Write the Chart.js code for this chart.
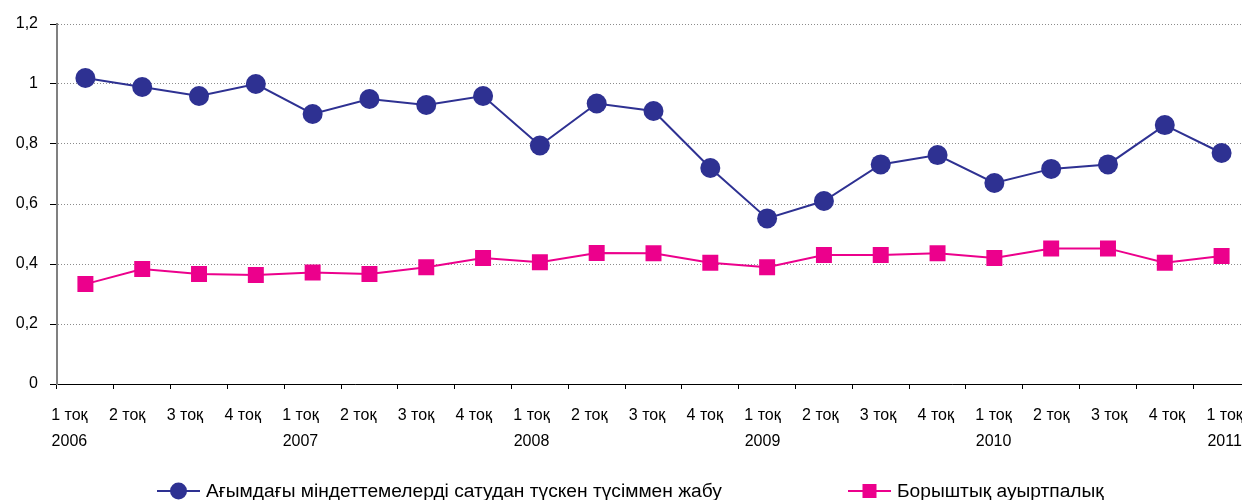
<!DOCTYPE html>
<html>
<head>
<meta charset="utf-8">
<script src="https://cdn.jsdelivr.net/npm/chart.js@4.4.1/dist/chart.umd.min.js"></script>
<style>
  html, body { margin: 0; padding: 0; background: #fff; overflow: hidden; }
  #wrap { width: 1262px; height: 500px; position: relative; }
</style>
</head>
<body>
<div id="wrap"><canvas id="c" width="1262" height="500"></canvas></div>
<script>
// ---- data ----
const quarters = ['1 тоқ','2 тоқ','3 тоқ','4 тоқ','1 тоқ','2 тоқ','3 тоқ','4 тоқ','1 тоқ','2 тоқ','3 тоқ','4 тоқ','1 тоқ','2 тоқ','3 тоқ','4 тоқ','1 тоқ','2 тоқ','3 тоқ','4 тоқ','1 тоқ'];
const years    = ['2006','','','','2007','','','','2008','','','','2009','','','','2010','','','','2011'];
const seriesNames = ['Ағымдағы міндеттемелерді сатудан түскен түсіммен жабу', 'Борыштық ауыртпалық'];
const coverage = [1.02, 0.99, 0.96, 1.00, 0.90, 0.95, 0.93, 0.96, 0.795, 0.935, 0.91, 0.72, 0.552, 0.61, 0.732, 0.763, 0.67, 0.717, 0.732, 0.863, 0.77];
const debtLoad = [0.333, 0.383, 0.367, 0.363, 0.372, 0.367, 0.389, 0.42, 0.406, 0.437, 0.436, 0.404, 0.389, 0.43, 0.43, 0.436, 0.42, 0.452, 0.452, 0.404, 0.427];
const yTicks = [0, 0.2, 0.4, 0.6, 0.8, 1, 1.2];

const labels = quarters.map((q, i) => [q, years[i]]);
const FONT = '"Liberation Sans", Arial, Helvetica, sans-serif';
const BLUE = '#2E3192';
const PINK = '#EC008C';

// shifts category labels progressively (label spacing in the original is slightly wider than point spacing)
const labelDriftPlugin = {
  id: 'labelDrift',
  beforeDraw(chart, args, opts) {
    const s = chart.scales.x;
    const items = s.getLabelItems();
    if (items && !items._drifted) {
      items.forEach((it, i) => { it.options.translation[0] += opts.start + i * opts.step; });
      items._drifted = true;
    }
  }
};

const legendPlugin = {
  id: 'customLegend',
  afterDraw(chart, args, opts) {
    const ctx = chart.ctx;
    const y = opts.y;
    ctx.save();
    chart.data.datasets.forEach((ds, i) => {
      const x0 = opts.xs[i];
      ctx.strokeStyle = ds.borderColor;
      ctx.lineWidth = 2;
      ctx.beginPath();
      ctx.moveTo(x0, y);
      ctx.lineTo(x0 + 43, y);
      ctx.stroke();
      ctx.fillStyle = ds.borderColor;
      const cx = x0 + 21.5;
      if (ds.pointStyle === 'rect') {
        ctx.fillRect(cx - 7, y - 7, 14, 14);
      } else {
        ctx.beginPath();
        ctx.arc(cx, y, 8.5, 0, Math.PI * 2);
        ctx.fill();
      }
      ctx.fillStyle = '#000';
      ctx.font = opts.fontSize + 'px ' + FONT;
      ctx.textBaseline = 'middle';
      ctx.textAlign = 'left';
      ctx.fillText(ds.label, x0 + 49, y + 1);
    });
    ctx.restore();
  }
};

new Chart(document.getElementById('c'), {
  type: 'line',
  data: {
    labels: labels,
    datasets: [
      {
        label: seriesNames[0],
        data: coverage,
        borderColor: BLUE,
        backgroundColor: BLUE,
        borderWidth: 2,
        pointStyle: 'circle',
        pointRadius: 10,
        pointBorderWidth: 0,
        pointBackgroundColor: BLUE,
        tension: 0
      },
      {
        label: seriesNames[1],
        data: debtLoad,
        borderColor: PINK,
        backgroundColor: PINK,
        borderWidth: 2,
        pointStyle: 'rect',
        pointRadius: 11.3,
        pointBorderWidth: 0,
        pointBackgroundColor: PINK,
        tension: 0
      }
    ]
  },
  options: {
    responsive: false,
    animation: false,
    devicePixelRatio: 1,
    layout: { padding: { left: 0, top: 24, right: 12, bottom: 0 } },
    plugins: {
      legend: { display: false },
      tooltip: { enabled: false },
      customLegend: { xs: [157, 848], y: 491, fontSize: 19.2 },
      labelDrift: { start: -16, step: 0.95 }
    },
    scales: {
      x: {
        type: 'category',
        offset: true,
        grid: {
          display: true,
          drawOnChartArea: false,
          offset: true,
          tickLength: 5,
          tickColor: '#000',
          lineWidth: 1
        },
        border: { display: true, color: '#000', width: 1 },
        ticks: {
          autoSkip: false,
          maxRotation: 0,
          minRotation: 0,
          padding: 14,
          color: '#000',
          font: { family: FONT, size: 16, lineHeight: 1.6 }
        },
        afterFit(scale) { scale.height = 116; }
      },
      y: {
        min: 0,
        max: 1.2,
        afterBuildTicks(scale) { scale.ticks = yTicks.map(v => ({ value: v })); },
        grid: {
          color: '#8c8c8c',
          lineWidth: 1,
          tickLength: 7,
          tickColor: '#000',
          tickWidth: 1,
          tickBorderDash: []
        },
        border: { display: true, color: '#808080', width: 2, dash: [1, 2] },
        ticks: {
          padding: 12,
          color: '#000',
          font: { family: FONT, size: 16 },
          callback: (v) => String(Math.round(v * 10) / 10).replace('.', ',')
        },
        afterFit(scale) { scale.width = 57; }
      }
    }
  },
  plugins: [labelDriftPlugin, legendPlugin]
});
</script>
</body>
</html>
